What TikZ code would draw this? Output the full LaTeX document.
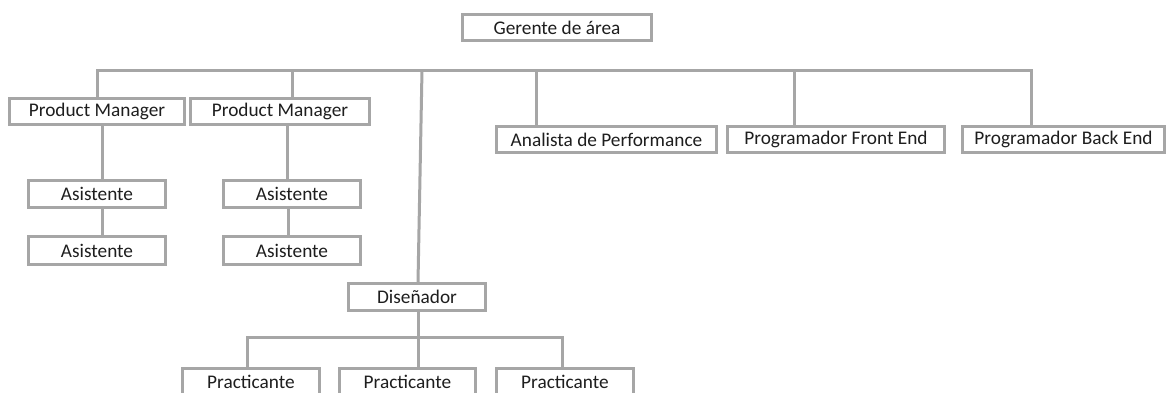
\documentclass[tikz,border=0pt]{standalone}
\usepackage{fontspec}
\setmainfont{Carlito}
\definecolor{ln}{RGB}{166,166,166}
\definecolor{tx}{RGB}{30,30,30}
\tikzset{
  box/.style={draw=ln, line width=2.8pt, fill=white, text=tx, inner sep=0pt,
    minimum height=26.5pt, font=\fontsize{19.3}{22}\selectfont},
  conn/.style={draw=ln, line width=3pt}
}
\begin{document}
\begin{tikzpicture}[x=1pt,y=-1pt]
\useasboundingbox[fill=white] (0,0) rectangle (1171,392);
% connectors drawn first are covered by boxes; boxes drawn below
\coordinate (barL) at (97,70);
\coordinate (barR) at (1031,70);
\coordinate (b3) at (422,70);
% nodes
\node[box, minimum width=189pt] (G) at (557,27.5) {Gerente de área};
\node[box, minimum width=175pt] (PM1) at (97,111.5) {Product Manager};
\node[box, minimum width=179pt] (PM2) at (280,111.5) {Product Manager};
\node[box, minimum width=137pt, minimum height=27.5pt] (A1) at (97,194) {Asistente};
\node[box, minimum width=137pt, minimum height=27.5pt] (A2) at (97,250.5) {Asistente};
\node[box, minimum width=137pt, minimum height=27.5pt] (A3) at (292,194) {Asistente};
\node[box, minimum width=137pt, minimum height=27.5pt] (A4) at (292,250.5) {Asistente};
\node[box, minimum width=220pt] (AN) at (606.5,139.5) {Analista de Performance};
\node[box, minimum width=217pt] (FE) at (836,139.5) {Programador Front End};
\node[box, minimum width=202pt] (BE) at (1063.5,139.5) {Programador Back End};
\node[box, minimum width=137pt] (D) at (417,297) {Diseñador};
\node[box, minimum width=137pt] (P1) at (251,381.5) {Practicante};
\node[box, minimum width=136pt] (P2) at (407.5,381.5) {Practicante};
\node[box, minimum width=137pt] (P3) at (565,381.5) {Practicante};
% top connectors
\draw[conn] (PM1.north) -- (barL) -- (barR) -- ([xshift=-32.5pt]BE.north);
\draw[conn] ([xshift=12pt]PM2.north) -- ([xshift=12pt]PM2.north |- barL);
\draw[conn] (b3) -- ([xshift=1pt]D.north);
\draw[conn] ([xshift=-70pt]AN.north) -- ([xshift=-70pt]AN.north |- barL);
\draw[conn] ([xshift=-42pt]FE.north) -- ([xshift=-42pt]FE.north |- barL);
% product manager branches
\draw[conn] ([xshift=5pt]PM1.south) -- ([xshift=5pt]A1.north);
\draw[conn] ([xshift=5pt]A1.south) -- ([xshift=5pt]A2.north);
\draw[conn] ([xshift=7.5pt]PM2.south) -- ([xshift=7.5pt]PM2.south |- A3.north);
\draw[conn] ([xshift=-4pt]A3.south) -- ([xshift=-4pt]A4.north);
% designer branch
\draw[conn] ([xshift=-4pt]P1.north) -- ++(0,-29) -| ([xshift=-3pt]P3.north);
\draw[conn] ([xshift=1pt]D.south) -- ([xshift=1pt]D.south |- P2.north);
\end{tikzpicture}
\end{document}
